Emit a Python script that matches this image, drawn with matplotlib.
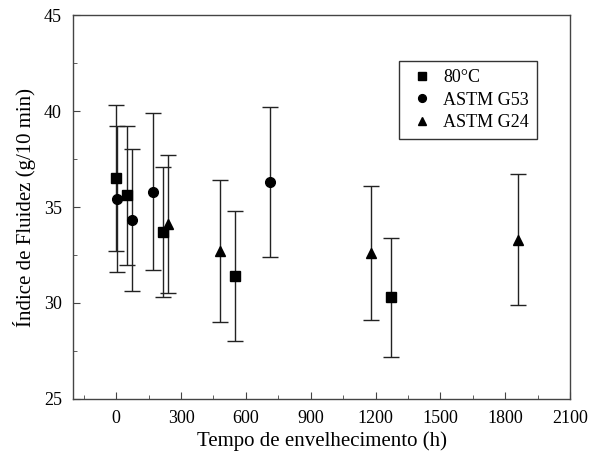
import numpy as np
import matplotlib
matplotlib.use("Agg")
import matplotlib.pyplot as plt
from matplotlib.ticker import MultipleLocator

plt.rcParams['font.family'] = ['Liberation Serif', 'DejaVu Serif']

# 80°C
t_80 = [0, 48, 216, 550, 1270]
y_80 = [36.5, 35.6, 33.7, 31.4, 30.3]
lo_80 = [32.7, 32.0, 30.3, 28.0, 27.2]
hi_80 = [40.3, 39.2, 37.1, 34.8, 33.4]

# ASTM G53
t_g53 = [5, 72, 168, 710]
y_g53 = [35.4, 34.3, 35.8, 36.3]
lo_g53 = [31.6, 30.6, 31.7, 32.4]
hi_g53 = [39.2, 38.0, 39.9, 40.2]

# ASTM G24
t_g24 = [240, 480, 1180, 1860]
y_g24 = [34.1, 32.7, 32.6, 33.3]
lo_g24 = [30.5, 29.0, 29.1, 29.9]
hi_g24 = [37.7, 36.4, 36.1, 36.7]

fig = plt.figure(figsize=(5.91, 4.59), dpi=100)
ax = fig.add_axes([0.1235, 0.131, 0.841, 0.836])

series = [
    (t_80, y_80, lo_80, hi_80, 's', 6.5, '80°C'),
    (t_g53, y_g53, lo_g53, hi_g53, 'o', 7, 'ASTM G53'),
    (t_g24, y_g24, lo_g24, hi_g24, '^', 7.5, 'ASTM G24'),
]
for t, y, lo, hi, mk, ms, lab in series:
    y = np.array(y)
    err = [y - np.array(lo), np.array(hi) - y]
    ax.errorbar(t, y, yerr=err, fmt=mk, color='black', ms=ms,
                ecolor='#222222', elinewidth=1.0, capsize=6, capthick=1.0,
                label=lab)

ax.set_xlim(-200, 2100)
ax.set_ylim(25, 45)
ax.xaxis.set_major_locator(MultipleLocator(300))
ax.xaxis.set_minor_locator(MultipleLocator(150))
ax.yaxis.set_major_locator(MultipleLocator(5))
ax.yaxis.set_minor_locator(MultipleLocator(2.5))
ax.tick_params(which='both', direction='in', labelsize=13, color='#444444')
ax.tick_params(which='major', length=5, pad=8)
ax.tick_params(which='minor', length=3)
for s in ax.spines.values():
    s.set_color('#444444')
    s.set_linewidth(1.0)

ax.set_xlabel('Tempo de envelhecimento (h)', fontsize=15, labelpad=3)
ax.set_ylabel('Índice de Fluidez (g/10 min)', fontsize=15, labelpad=6)

# legend box, no fancy stuff
handles, labels = ax.get_legend_handles_labels()
handles = [h[0] for h in handles]
leg = ax.legend(handles, labels, loc='upper right', bbox_to_anchor=(0.934, 0.88),
                borderaxespad=0, fontsize=13, frameon=True, fancybox=False,
                edgecolor='black', handlelength=1.6, handletextpad=0.4,
                borderpad=0.45, labelspacing=0.3, markerscale=0.8)
leg.get_frame().set_linewidth(1.0)

fig.savefig('out.png', dpi=100)
